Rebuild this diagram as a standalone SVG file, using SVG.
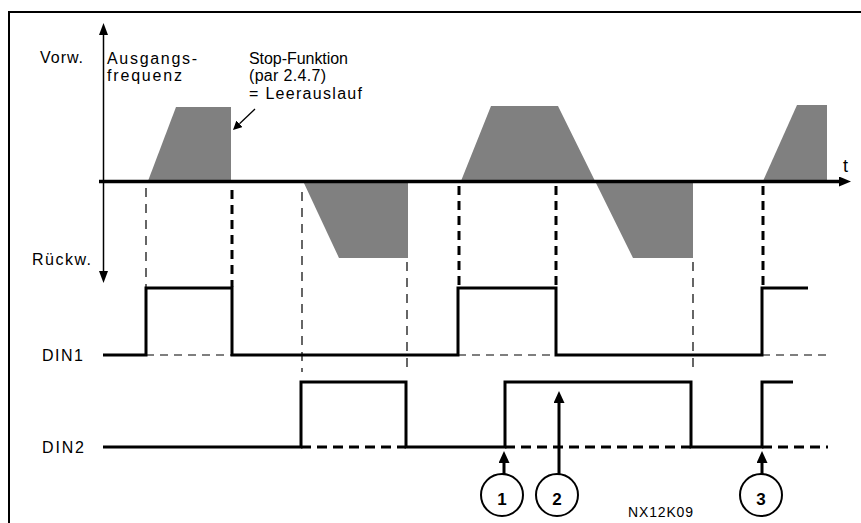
<svg xmlns="http://www.w3.org/2000/svg" width="861" height="523" viewBox="0 0 861 523">
<style>
.t{font-family:"Liberation Sans",Arial,sans-serif;font-size:16px;fill:#000}
.num{font-family:"Liberation Sans",Arial,sans-serif;font-size:17px;font-weight:bold;text-anchor:middle;fill:#000}
.area{fill:#808080}
.sig{fill:none;stroke:#000;stroke-width:3;stroke-linejoin:miter}
.dthin{fill:none;stroke:#000;stroke-width:1.2;stroke-dasharray:9 7}
.dthinh{fill:none;stroke:#000;stroke-width:1.2;stroke-dasharray:8 6}
.dthick{fill:none;stroke:#000;stroke-width:3;stroke-dasharray:9 6}
.dthickh{fill:none;stroke:#000;stroke-width:3;stroke-dasharray:10 6}
.circ{fill:#fff;stroke:#000;stroke-width:2}
.conn{fill:none;stroke:#000;stroke-width:3}
</style>
<defs>
<marker id="headS" markerUnits="userSpaceOnUse" markerWidth="12" markerHeight="10" refX="0" refY="5" orient="auto" viewBox="0 0 12 10"><path d="M0,0 L12,5 L0,10 z" fill="#000"/></marker>
<marker id="headL" markerUnits="userSpaceOnUse" markerWidth="12" markerHeight="11" refX="0" refY="5.5" orient="auto" viewBox="0 0 12 11"><path d="M0,0 L12,5.5 L0,11 z" fill="#000"/></marker>
<marker id="headT" markerUnits="userSpaceOnUse" markerWidth="9" markerHeight="9" refX="0" refY="4.5" orient="auto" viewBox="0 0 9 9"><path d="M0,0 L9,4.5 L0,9 z" fill="#000"/></marker>
</defs>
<rect x="9" y="12" width="880" height="540" fill="#fff" stroke="#000" stroke-width="2"/>
<g id="frequency-areas">
<polygon class="area" points="148,181 176,107 231,107 231,181"/>
<polygon class="area" points="303,181 339,258 408,258 408,181"/>
<polygon class="area" points="461,181 491,106 558,106 633,258 693,258 693,181"/>
<polygon class="area" points="763,181 797,105 827,105 827,181"/>
</g>
<g id="axes">
<line x1="103.5" y1="35" x2="103.5" y2="271" stroke="#000" stroke-width="1.5"/>
<path d="M99,23 L108,23" fill="none"/>
<polygon points="103.5,23 99,35 108,35" fill="#000"/>
<polygon points="103.5,283 99,271 108,271" fill="#000"/>
<line x1="99" y1="181.5" x2="839" y2="181.5" stroke="#000" stroke-width="3.5" marker-end="url(#headS)"/>
</g>
<g id="guides">
<path class="dthin" d="M146,188 V287 M302,192 V372 M407,262 V370 M693,262 V370"/>
<path class="dthick" d="M232,190 V287 M459,186 V287 M556,186 V287 M763,186 V287"/>
<path class="dthinh" d="M146,355 H232 M458,355 H556 M762,355 H828"/>
<path class="dthickh" d="M301,447 H406 M505,447 H691 M762,447 H828"/>
</g>
<g id="din1"><path class="sig" d="M103,355 H146 V288 H232 V355 H458 V288 H556 V355 H762 V288 H808"/></g>
<g id="din2"><path class="sig" d="M103,447 H301 V382 H406 V447 H505 V382 H691 V447 H762 V382 H793"/></g>
<g id="labels">
<text class="t" x="40" y="63" textLength="43" lengthAdjust="spacing">Vorw.</text>
<text class="t" x="107" y="64" textLength="90" lengthAdjust="spacing">Ausgangs-</text>
<text class="t" x="107" y="81" textLength="75" lengthAdjust="spacing">frequenz</text>
<text class="t" x="249" y="64" textLength="99" lengthAdjust="spacing">Stop-Funktion</text>
<text class="t" x="249" y="81" textLength="77" lengthAdjust="spacing">(par 2.4.7)</text>
<text class="t" x="249" y="99" textLength="113" lengthAdjust="spacing">= Leerauslauf</text>
<text class="t" x="32" y="265" textLength="59" lengthAdjust="spacing">Rückw.</text>
<text class="t" x="42" y="361" textLength="41" lengthAdjust="spacing">DIN1</text>
<text class="t" x="42" y="453" textLength="42" lengthAdjust="spacing">DIN2</text>
<text class="t" x="843" y="172" style="font-size:18px">t</text>
<text class="t" x="628" y="517" style="font-size:14px" textLength="65" lengthAdjust="spacing">NX12K09</text>
</g>
<g id="connectors">
<line x1="255" y1="109" x2="239.5" y2="123.8" stroke="#000" stroke-width="1.3" marker-end="url(#headT)"/>
<line class="conn" x1="504" y1="474" x2="504" y2="463" marker-end="url(#headL)"/>
<line class="conn" x1="559" y1="474" x2="559" y2="403" marker-end="url(#headL)"/>
<line class="conn" x1="762" y1="474" x2="762" y2="463" marker-end="url(#headL)"/>
</g>
<g id="event1"><circle class="circ" cx="502" cy="495" r="21"/><text class="num" x="502" y="505">1</text></g>
<g id="event2"><circle class="circ" cx="557" cy="495" r="21"/><text class="num" x="557" y="505">2</text></g>
<g id="event3"><circle class="circ" cx="761" cy="495" r="21"/><text class="num" x="761" y="505">3</text></g>
</svg>
